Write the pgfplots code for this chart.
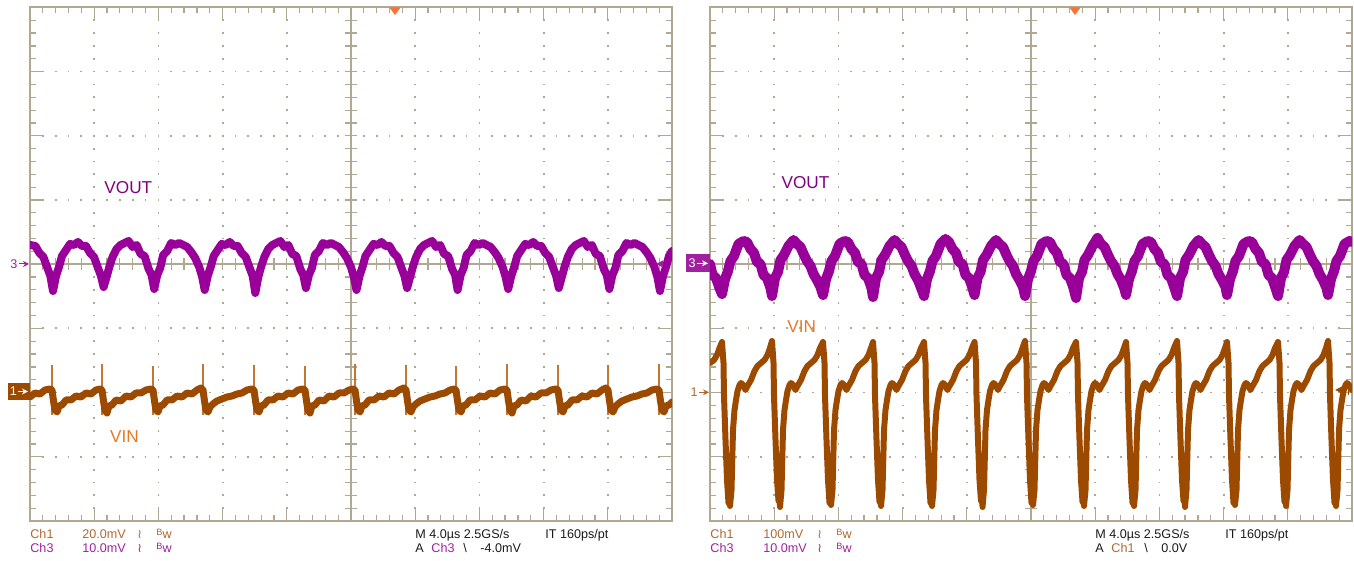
\documentclass[border=0pt]{standalone}
\usepackage{fontspec}
\setmainfont{Liberation Sans}
\newfontfamily\dejavu{DejaVu Sans}
\usepackage{pgfplots}
\pgfplotsset{compat=1.18}
\usetikzlibrary{arrows.meta}
\definecolor{gridc}{RGB}{176,168,144}
\definecolor{vout}{RGB}{153,0,153}
\definecolor{vin}{RGB}{156,74,0}
\definecolor{vinthin}{RGB}{196,118,52}
\definecolor{voutlbl}{RGB}{128,0,128}
\definecolor{vinlbl}{RGB}{230,120,40}
\definecolor{chone}{RGB}{176,104,48}
\definecolor{chthree}{RGB}{160,32,160}
\definecolor{trig}{RGB}{255,112,48}
\newcommand\scopegrid[1]{%
\begin{scope}[shift={(#1,40)}]
\foreach \i in {1,2,3,4,6,7,8,9}{\foreach \j in {1,...,39}{\fill[gridc] ({\i*64.2-0.9},{\j*12.84-0.9}) rectangle ++(1.8,1.8);}}
\foreach \j in {1,2,3,5,6,7}{\foreach \i in {1,...,49}{\fill[gridc] ({\i*12.84-0.9},{\j*64.2-0.9}) rectangle ++(1.8,1.8);}}
\draw[gridc, line width=0.75pt] (321,0) -- (321,513.6);
\draw[gridc, line width=0.75pt] (0,256.8) -- (642,256.8);
\foreach \i in {1,...,49}{%
  \pgfmathsetmacro\L{ifthenelse(mod(\i,5)==0,13,6)}
  \draw[gridc, line width=0.6pt] ({\i*12.84},513.6) -- ++(0,-\L);
  \draw[gridc, line width=0.6pt] ({\i*12.84},0) -- ++(0,\L);
  \draw[gridc, line width=0.6pt] ({\i*12.84},250.8) -- ({\i*12.84},262.8);
}
\foreach \j in {1,...,39}{%
  \pgfmathsetmacro\L{ifthenelse(mod(\j,5)==0,13,6)}
  \draw[gridc, line width=0.6pt] (0,{\j*12.84}) -- ++(\L,0);
  \draw[gridc, line width=0.6pt] (642,{\j*12.84}) -- ++(-\L,0);
  \draw[gridc, line width=0.6pt] (315,{\j*12.84}) -- (327,{\j*12.84});
}
\draw[gridc, line width=1pt] (0,0) rectangle (642,513.6);
\end{scope}}
\newcommand\sm{\fontsize{6.3}{7}\selectfont}
\newcommand\bw{\raisebox{1.6pt}{\fontsize{4.6}{5}\selectfont B}{\sm w}}
\newcommand\bwl{{\dejavu\fontsize{6.3}{7}\selectfont ≀}}
\begin{document}
\begin{tikzpicture}[x=0.5pt,y=0.5pt]
\path[use as bounding box] (0,0) rectangle (1354,561);
\scopegrid{30}
\scopegrid{710}
% ---------------- left panel traces ----------------
\begin{axis}[at={(15pt,20pt)}, anchor=south west, x=0.5pt, y=0.5pt,
  xmin=0, xmax=642, ymin=0, ymax=513.6, hide axis, unbounded coords=jump]
\addplot[vout, line width=4pt, line join=round, line cap=round] coordinates {
(0,276) (5.4,275) (9.4,268) (13.4,264) (17.4,253) (20.4,245)
(23,230) (26,245) (29,254) (32,265) (36,271) (40,277) (44,276) (48,279) (52,275) (56,275) (60,268) (64,264) (68,253) (71,245)
(73.6,234) (76.6,244) (79.6,255) (82.6,264) (86.6,272) (90.6,276) (94.6,278) (98.6,280) (102.6,274) (106.6,276) (110.6,267) (114.6,265) (118.6,252) (121.6,246)
(124.2,232) (127.2,246) (130.2,253) (133.2,266) (137.2,270) (141.2,278) (145.2,276) (149.2,278) (153.2,276) (157.2,274) (161.2,269) (165.2,263) (169.2,254) (172.2,244)
(174.7,231) (177.7,245) (180.7,254) (183.7,265) (187.7,271) (191.7,277) (195.7,276) (199.7,279) (203.7,275) (207.7,275) (211.7,268) (215.7,264) (219.7,253) (222.7,245)
(225.3,228) (228.3,244) (231.3,255) (234.3,264) (238.3,272) (242.3,276) (246.3,278) (250.3,280) (254.3,274) (258.3,276) (262.3,267) (266.3,265) (270.3,252) (273.3,246)
(275.9,233) (278.9,246) (281.9,253) (284.9,266) (288.9,270) (292.9,278) (296.9,276) (300.9,278) (304.9,276) (308.9,274) (312.9,269) (316.9,263) (320.9,254) (323.9,244)
(326.5,231) (329.5,245) (332.5,254) (335.5,265) (339.5,271) (343.5,277) (347.5,276) (351.5,279) (355.5,275) (359.5,275) (363.5,268) (367.5,264) (371.5,253) (374.5,245)
(377.1,233) (380.1,244) (383.1,255) (386.1,264) (390.1,272) (394.1,276) (398.1,278) (402.1,280) (406.1,274) (410.1,276) (414.1,267) (418.1,265) (422.1,252) (425.1,246)
(427.6,231) (430.6,246) (433.6,253) (436.6,266) (440.6,270) (444.6,278) (448.6,276) (452.6,278) (456.6,276) (460.6,274) (464.6,269) (468.6,263) (472.6,254) (475.6,244)
(478.2,232) (481.2,245) (484.2,254) (487.2,265) (491.2,271) (495.2,277) (499.2,276) (503.2,279) (507.2,275) (511.2,275) (515.2,268) (519.2,264) (523.2,253) (526.2,245)
(528.8,233) (531.8,244) (534.8,255) (537.8,264) (541.8,272) (545.8,276) (549.8,278) (553.8,280) (557.8,274) (561.8,276) (565.8,267) (569.8,265) (573.8,252) (576.8,246)
(579.4,232) (582.4,246) (585.4,253) (588.4,266) (592.4,270) (596.4,278) (600.4,276) (604.4,278) (608.4,276) (612.4,274) (616.4,269) (620.4,263) (624.4,254) (627.4,244)
(630,230) (633,245) (636,254) (639,265) (642,270)
};
\addplot[vinthin, line width=0.7pt] coordinates {
(22,106) (22,156) (22,nan) (72,106) (72,157) (72,nan) (123,106) (123,155) (123,nan)
(173,106) (173,157) (173,nan) (224,106) (224,156) (224,nan) (275,106) (275,155) (275,nan)
(325,106) (325,157) (325,nan) (376,106) (376,156) (376,nan) (426,106) (426,155) (426,nan)
(477,106) (477,157) (477,nan) (528,106) (528,156) (528,nan) (578,106) (578,156) (578,nan)
(629,106) (629,157)
};
\addplot[vin, line width=3.5pt, line join=round, line cap=round] coordinates {
(0,124) (5,128) (10,127) (15,131)
(20,132) (22,131) (23.5,120) (25,111) (27,109) (29,115) (32,116) (36,121) (41,121) (46,125) (51,124) (56,128) (61,127) (66,131)
(70,132) (72,131) (73.5,120) (75,111) (77,108) (79,115) (82,116) (86,121) (91,120) (96,125) (101,124) (106,128) (111,128) (116,131)
(121,132) (123,131) (124.5,120) (126,111) (128,109) (130,115) (133,116) (137,121) (142,121) (147,125) (152,124) (157,128) (162,127) (167,131)
(171,133) (173,131) (174.5,120) (176,111) (178,109) (180,114) (183,117) (187,120) (192,122) (197,124) (202,125) (207,127) (212,128) (217,131)
(222,132) (224,131) (225.5,120) (227,111) (229,109) (231,115) (234,116) (238,121) (243,121) (248,125) (253,124) (258,128) (263,127) (268,131)
(273,132) (275,131) (276.5,120) (278,111) (280,108) (282,115) (285,116) (289,121) (294,120) (299,125) (304,124) (309,128) (314,128) (319,131)
(323,132) (325,131) (326.5,120) (328,111) (330,109) (332,115) (335,116) (339,121) (344,121) (349,125) (354,124) (359,128) (364,127) (369,131)
(374,133) (376,131) (377.5,120) (379,111) (381,109) (383,114) (386,117) (390,120) (395,122) (400,124) (405,125) (410,127) (415,128) (420,131)
(424,132) (426,131) (427.5,120) (429,111) (431,109) (433,115) (436,116) (440,121) (445,121) (450,125) (455,124) (460,128) (465,127) (470,131)
(475,132) (477,131) (478.5,120) (480,111) (482,108) (484,115) (487,116) (491,121) (496,120) (501,125) (506,124) (511,128) (516,128) (521,131)
(526,132) (528,131) (529.5,120) (531,111) (533,109) (535,115) (538,116) (542,121) (547,121) (552,125) (557,124) (562,128) (567,127) (572,131)
(576,133) (578,131) (579.5,120) (581,111) (583,109) (585,114) (588,117) (592,120) (597,122) (602,124) (607,125) (612,127) (617,128) (622,131)
(627,132) (629,131) (630.5,120) (632,111) (634,109) (636,115) (639,116) (642,119)
};
\end{axis}
% ---------------- right panel traces ----------------
\begin{axis}[at={(355pt,20pt)}, anchor=south west, x=0.5pt, y=0.5pt,
  xmin=0, xmax=642, ymin=0, ymax=513.6, hide axis]
\addplot[vout, line width=5pt, line join=round, line cap=round] coordinates {
(0,257) (2.5,246) (6,243) (9.5,233)
(12,227) (15,242) (18,250) (20.5,260) (24,265) (28.5,277) (33.5,280) (37,279) (40.5,272) (44,268) (47,259) (50.5,257) (53.5,246) (57,243) (60.5,233)
(62,225) (65,243) (68,249) (70.5,261) (74,266) (78.5,275) (83.5,281) (87,277) (90.5,274) (94,266) (97,260) (100.5,255) (103.5,247) (107,241) (110.5,234)
(113,226) (116,242) (119,250) (121.5,260) (125,265) (129.5,277) (134.5,280) (138,279) (141.5,272) (145,268) (148,259) (151.5,257) (154.5,246) (158,243) (161.5,233)
(163,224) (166,243) (169,249) (171.5,261) (175,266) (179.5,275) (184.5,281) (188,277) (191.5,274) (195,266) (198,260) (201.5,255) (204.5,247) (208,241) (211.5,232)
(214,225) (217,242) (220,250) (222.5,260) (226,265) (230.5,277) (235.5,282) (239,279) (242.5,272) (246,268) (249,259) (252.5,257) (255.5,246) (259,243) (262.5,233)
(264.5,226) (267.5,243) (270.5,249) (273,261) (276.5,266) (281,275) (286,281) (289.5,277) (293,274) (296.5,266) (299.5,260) (303,255) (306,247) (309.5,241) (313,234)
(315,225) (318,242) (321,250) (323.5,260) (327,265) (331.5,277) (336.5,280) (340,279) (343.5,272) (347,268) (350,259) (353.5,257) (356.5,246) (360,243) (363.5,233)
(366,223) (369,243) (372,249) (374.5,261) (378,266) (382.5,275) (387.5,283) (391,277) (394.5,274) (398,266) (401,260) (404.5,255) (407.5,247) (411,241) (414.5,232)
(416,226) (419,242) (422,250) (424.5,260) (428,265) (432.5,277) (437.5,280) (441,279) (444.5,272) (448,268) (451,259) (454.5,257) (457.5,246) (461,243) (464.5,233)
(467,225) (470,243) (473,249) (475.5,261) (479,266) (483.5,275) (488.5,281) (492,277) (495.5,274) (499,266) (502,260) (505.5,255) (508.5,247) (512,241) (515.5,234)
(517,226) (520,242) (523,250) (525.5,260) (529,265) (533.5,277) (538.5,280) (542,279) (545.5,272) (549,268) (552,259) (555.5,257) (558.5,246) (562,243) (565.5,233)
(568,225) (571,243) (574,249) (576.5,261) (580,266) (584.5,275) (589.5,281) (593,277) (596.5,274) (600,266) (603,260) (606.5,255) (609.5,247) (613,241) (616.5,233)
(618,226) (621,242) (624,250) (626.5,260) (630,265) (634.5,277) (639.5,280) (642,279)
};
\addplot[vin, line width=3pt, line join=round, line cap=round] coordinates {
(0,158) (4,161) (7,166) (9.5,173)
(12,179) (13.5,158) (14,125) (15.5,81) (17,41) (18.5,18) (19.5,59) (20,15) (21.5,31) (23,91) (24.5,111) (26,121) (27.5,130) (29.5,136) (31,138) (33,136) (35.5,131) (37.5,135) (41,141) (44.5,150) (47.5,155) (51,158) (54.5,161) (57.5,166) (60,173)
(62,180) (63.5,158) (64,125) (65.5,81) (67,41) (68.5,20) (69.5,57) (70,14) (71.5,31) (73,91) (74.5,111) (76,121) (77.5,130) (79.5,136) (81,138) (83,136) (85.5,131) (87.5,135) (91,141) (94.5,150) (97.5,155) (101,158) (104.5,161) (107.5,166) (110,173)
(113,179) (114.5,158) (115,125) (116.5,81) (118,41) (119.5,18) (120.5,59) (121,16) (122.5,31) (124,91) (125.5,111) (127,121) (128.5,130) (130.5,136) (132,138) (134,136) (136.5,131) (138.5,135) (142,141) (145.5,150) (148.5,155) (152,158) (155.5,161) (158.5,166) (161,173)
(163,179) (164.5,158) (165,125) (166.5,81) (168,41) (169.5,19) (170.5,58) (171,15) (172.5,31) (174,91) (175.5,111) (177,121) (178.5,130) (180.5,136) (182,138) (184,136) (186.5,131) (188.5,135) (192,141) (195.5,150) (198.5,155) (202,158) (205.5,161) (208.5,166) (211,173)
(214,179) (215.5,158) (216,125) (217.5,81) (219,41) (220.5,18) (221.5,59) (222,15) (223.5,31) (225,91) (226.5,111) (228,121) (229.5,130) (231.5,136) (233,138) (235,136) (237.5,131) (239.5,135) (243,141) (246.5,150) (249.5,155) (253,158) (256.5,161) (259.5,166) (262,173)
(264.5,179) (266,158) (266.5,125) (268,81) (269.5,41) (271,20) (272,57) (272.5,14) (274,31) (275.5,91) (277,111) (278.5,121) (280,130) (282,136) (283.5,138) (285.5,136) (288,131) (290,135) (293.5,141) (297,150) (300,155) (303.5,158) (307,161) (310,166) (312.5,173)
(315,180) (316.5,158) (317,125) (318.5,81) (320,41) (321.5,18) (322.5,59) (323,16) (324.5,31) (326,91) (327.5,111) (329,121) (330.5,130) (332.5,136) (334,138) (336,136) (338.5,131) (340.5,135) (344,141) (347.5,150) (350.5,155) (354,158) (357.5,161) (360.5,166) (363,173)
(366,179) (367.5,158) (368,125) (369.5,81) (371,41) (372.5,19) (373.5,58) (374,15) (375.5,31) (377,91) (378.5,111) (380,121) (381.5,130) (383.5,136) (385,138) (387,136) (389.5,131) (391.5,135) (395,141) (398.5,150) (401.5,155) (405,158) (408.5,161) (411.5,166) (414,173)
(416,179) (417.5,158) (418,125) (419.5,81) (421,41) (422.5,18) (423.5,59) (424,15) (425.5,31) (427,91) (428.5,111) (430,121) (431.5,130) (433.5,136) (435,138) (437,136) (439.5,131) (441.5,135) (445,141) (448.5,150) (451.5,155) (455,158) (458.5,161) (461.5,166) (464,173)
(467,180) (468.5,158) (469,125) (470.5,81) (472,41) (473.5,20) (474.5,57) (475,14) (476.5,31) (478,91) (479.5,111) (481,121) (482.5,130) (484.5,136) (486,138) (488,136) (490.5,131) (492.5,135) (496,141) (499.5,150) (502.5,155) (506,158) (509.5,161) (512.5,166) (515,173)
(517,179) (518.5,158) (519,125) (520.5,81) (522,41) (523.5,18) (524.5,59) (525,16) (526.5,31) (528,91) (529.5,111) (531,121) (532.5,130) (534.5,136) (536,138) (538,136) (540.5,131) (542.5,135) (546,141) (549.5,150) (552.5,155) (556,158) (559.5,161) (562.5,166) (565,173)
(568,179) (569.5,158) (570,125) (571.5,81) (573,41) (574.5,19) (575.5,58) (576,15) (577.5,31) (579,91) (580.5,111) (582,121) (583.5,130) (585.5,136) (587,138) (589,136) (591.5,131) (593.5,135) (597,141) (600.5,150) (603.5,155) (607,158) (610.5,161) (613.5,166) (616,173)
(618,180) (619.5,158) (620,125) (621.5,81) (623,41) (624.5,18) (625.5,59) (626,15) (627.5,31) (629,91) (630.5,111) (632,121) (633.5,130) (635.5,136) (637,138) (639,136) (641.5,131) (642,132)
};
\end{axis}
% ---------------- trigger markers ----------------
\fill[trig] (389.5,553.5) -- (400.5,553.5) -- (395,546) -- cycle;
\fill[trig] (1069.5,553.5) -- (1080.5,553.5) -- (1075,546) -- cycle;
% ---------------- channel markers ----------------
\node[text=chthree, font=\sm, inner sep=0pt] at (14,297) {3};
\draw[chthree, line width=0.5pt, -{Stealth[length=3pt,width=3pt]}] (19,297) -- (29,297);
\fill[vin] (8.3,161) rectangle (30,178);
\node[text=white, font=\sm, inner sep=0pt] at (13.5,169.5) {1};
\draw[white, line width=0.5pt, -{Stealth[length=3pt,width=3pt]}] (18,169.5) -- (28,169.5);
\fill[chthree] (686,288.7) rectangle (710,306.7);
\node[text=white, font=\sm, inner sep=0pt] at (692,297.7) {3};
\draw[white, line width=0.5pt, -{Stealth[length=3pt,width=3pt]}] (697,297.7) -- (708,297.7);
\node[text=chone, font=\sm, inner sep=0pt] at (694,168.7) {1};
\draw[chone, line width=0.5pt, -{Stealth[length=3pt,width=3pt]}] (699,168.7) -- (709,168.7);
\draw[vin, line width=0.8pt, -{Stealth[length=5pt,width=5pt]}] (1346,171) -- (1335,171);
\draw[vin, line width=0.8pt] (1348.5,166) -- (1348.5,176);
\fill[chthree] (656,297) -- (663,300.5) -- (663,293.5) -- cycle;
% ---------------- trace labels ----------------
\node[text=voutlbl, font=\fontsize{8.6}{10}\selectfont, inner sep=0pt] at (128.3,373) {VOUT};
\node[text=voutlbl, font=\fontsize{8.6}{10}\selectfont, inner sep=0pt] at (805.5,378) {VOUT};
\node[text=vinlbl, font=\fontsize{8.6}{10}\selectfont, inner sep=0pt] at (124.5,124.5) {VIN};
\node[text=vinlbl, font=\fontsize{8.6}{10}\selectfont, inner sep=0pt] at (801.7,234.3) {VIN};
% ---------------- bottom readouts ----------------
\begin{scope}[every node/.style={anchor=base west, inner sep=0pt, font=\sm}]
\node[text=chone] at (30,22.7) {Ch1};
\node[text=chone] at (82,22.7) {20.0mV};
\node[text=chone] at (137,22.7) {\bwl};
\node[text=chone] at (156,22.7) {\bw};
\node[text=chthree] at (30,8.7) {Ch3};
\node[text=chthree] at (82,8.7) {10.0mV};
\node[text=chthree] at (137,8.7) {\bwl};
\node[text=chthree] at (156,8.7) {\bw};
\node[text=black!90] at (415,22.7) {M 4.0µs 2.5GS/s};
\node[text=black!90] at (545,22.7) {IT 160ps/pt};
\node[text=black!90] at (415,8.7) {A};
\node[text=chthree] at (431,8.7) {Ch3};
\node[text=black!90] at (463,8.7) {\textbackslash};
\node[text=black!90] at (480,8.7) {-4.0mV};
\node[text=chone] at (710,22.7) {Ch1};
\node[text=chone] at (763,22.7) {100mV};
\node[text=chone] at (817,22.7) {\bwl};
\node[text=chone] at (836,22.7) {\bw};
\node[text=chthree] at (710,8.7) {Ch3};
\node[text=chthree] at (763,8.7) {10.0mV};
\node[text=chthree] at (817,8.7) {\bwl};
\node[text=chthree] at (836,8.7) {\bw};
\node[text=black!90] at (1095,22.7) {M 4.0µs 2.5GS/s};
\node[text=black!90] at (1225,22.7) {IT 160ps/pt};
\node[text=black!90] at (1095,8.7) {A};
\node[text=chone] at (1111,8.7) {Ch1};
\node[text=black!90] at (1144,8.7) {\textbackslash};
\node[text=black!90] at (1161,8.7) {0.0V};
\end{scope}
\end{tikzpicture}
\end{document}
